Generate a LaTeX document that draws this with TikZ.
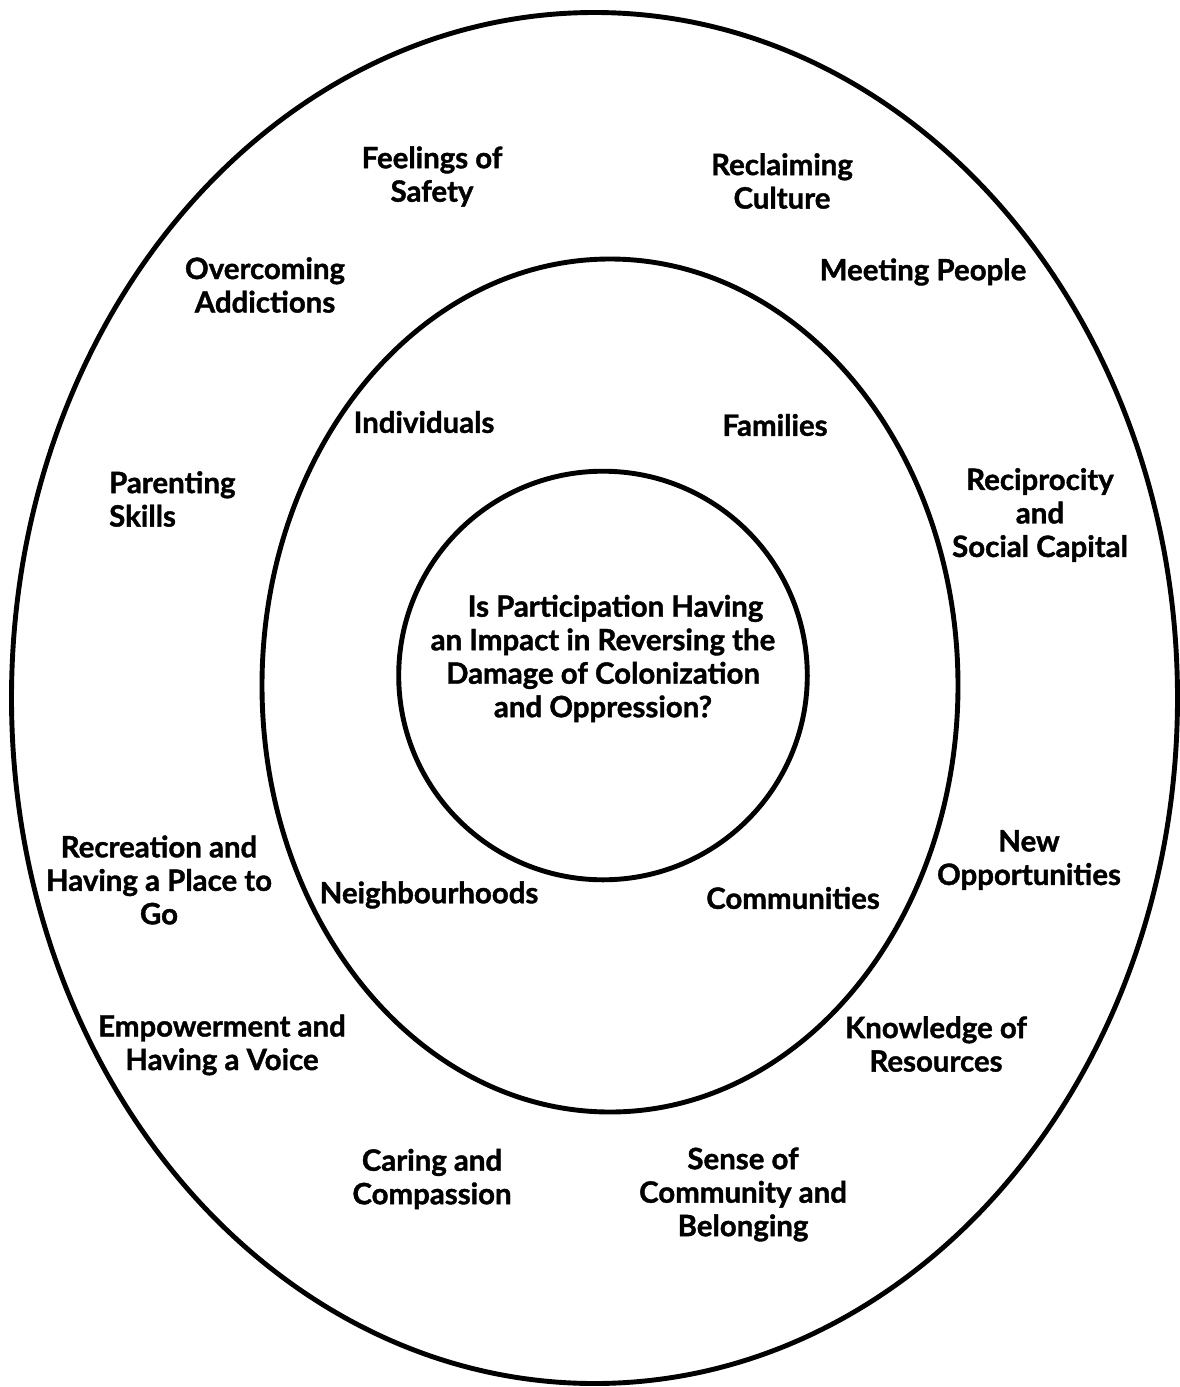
\documentclass[tikz,border=0pt]{standalone}
\usepackage{fontspec}
\setmainfont{Lato}[BoldFeatures={FakeBold=1.3}]
\begin{document}
\begin{tikzpicture}[x=1pt,y=-1pt,
  ring/.style={draw=black,line width=4.9pt},
  lbl/.style={font=\fontsize{29.4}{33.5}\selectfont\bfseries,align=center,inner sep=0pt}]
\useasboundingbox (0,0) rectangle (1179,1387);
% three nested rings
\draw[ring] (594.5,698) ellipse [x radius=583,y radius=685.5];
\draw[ring] (610,685.5) ellipse [x radius=348,y radius=426.5];
\draw[ring] (603,675.5) circle [radius=204.3];
% central question
\node[lbl] (q) at (603,658.5) {\hspace*{0.85em}Is Participation Having\\an Impact in Reversing the\\Damage of Colonization\\and Oppression?};
% middle ring
\node[lbl] (ind) at (424,422) {Individuals};
\node[lbl] (fam) at (775,425) {Families};
\node[lbl] (nbh) at (429,895) {Neighbourhoods};
\node[lbl] (com) at (793,898) {Communities};
% outer ring
\node[lbl] (safe) at (432,176.5) {Feelings of\\Safety};
\node[lbl] (cult) at (782,181) {Reclaiming\\Culture};
\node[lbl] (meet) at (923,272) {Meeting People};
\node[lbl] (addi) at (265,285) {Overcoming\\Addictions};
\node[lbl,anchor=west,align=left] (par) at (109,499) {Parenting\\Skills};
\node[lbl] (reci) at (1040,515) {Reciprocity\\and\\Social Capital};
\node[lbl] (recr) at (159,880) {Recreation and\\Having a Place to\\Go};
\node[lbl] (newo) at (1029,860) {New\\Opportunities};
\node[lbl] (empo) at (222,1045) {Empowerment and\\Having a Voice};
\node[lbl] (know) at (936,1044) {Knowledge of\\Resources};
\node[lbl] (care) at (432,1179) {Caring and\\Compassion};
\node[lbl] (sens) at (743,1194.5) {Sense of\\Community and\\Belonging};
\end{tikzpicture}
\end{document}
